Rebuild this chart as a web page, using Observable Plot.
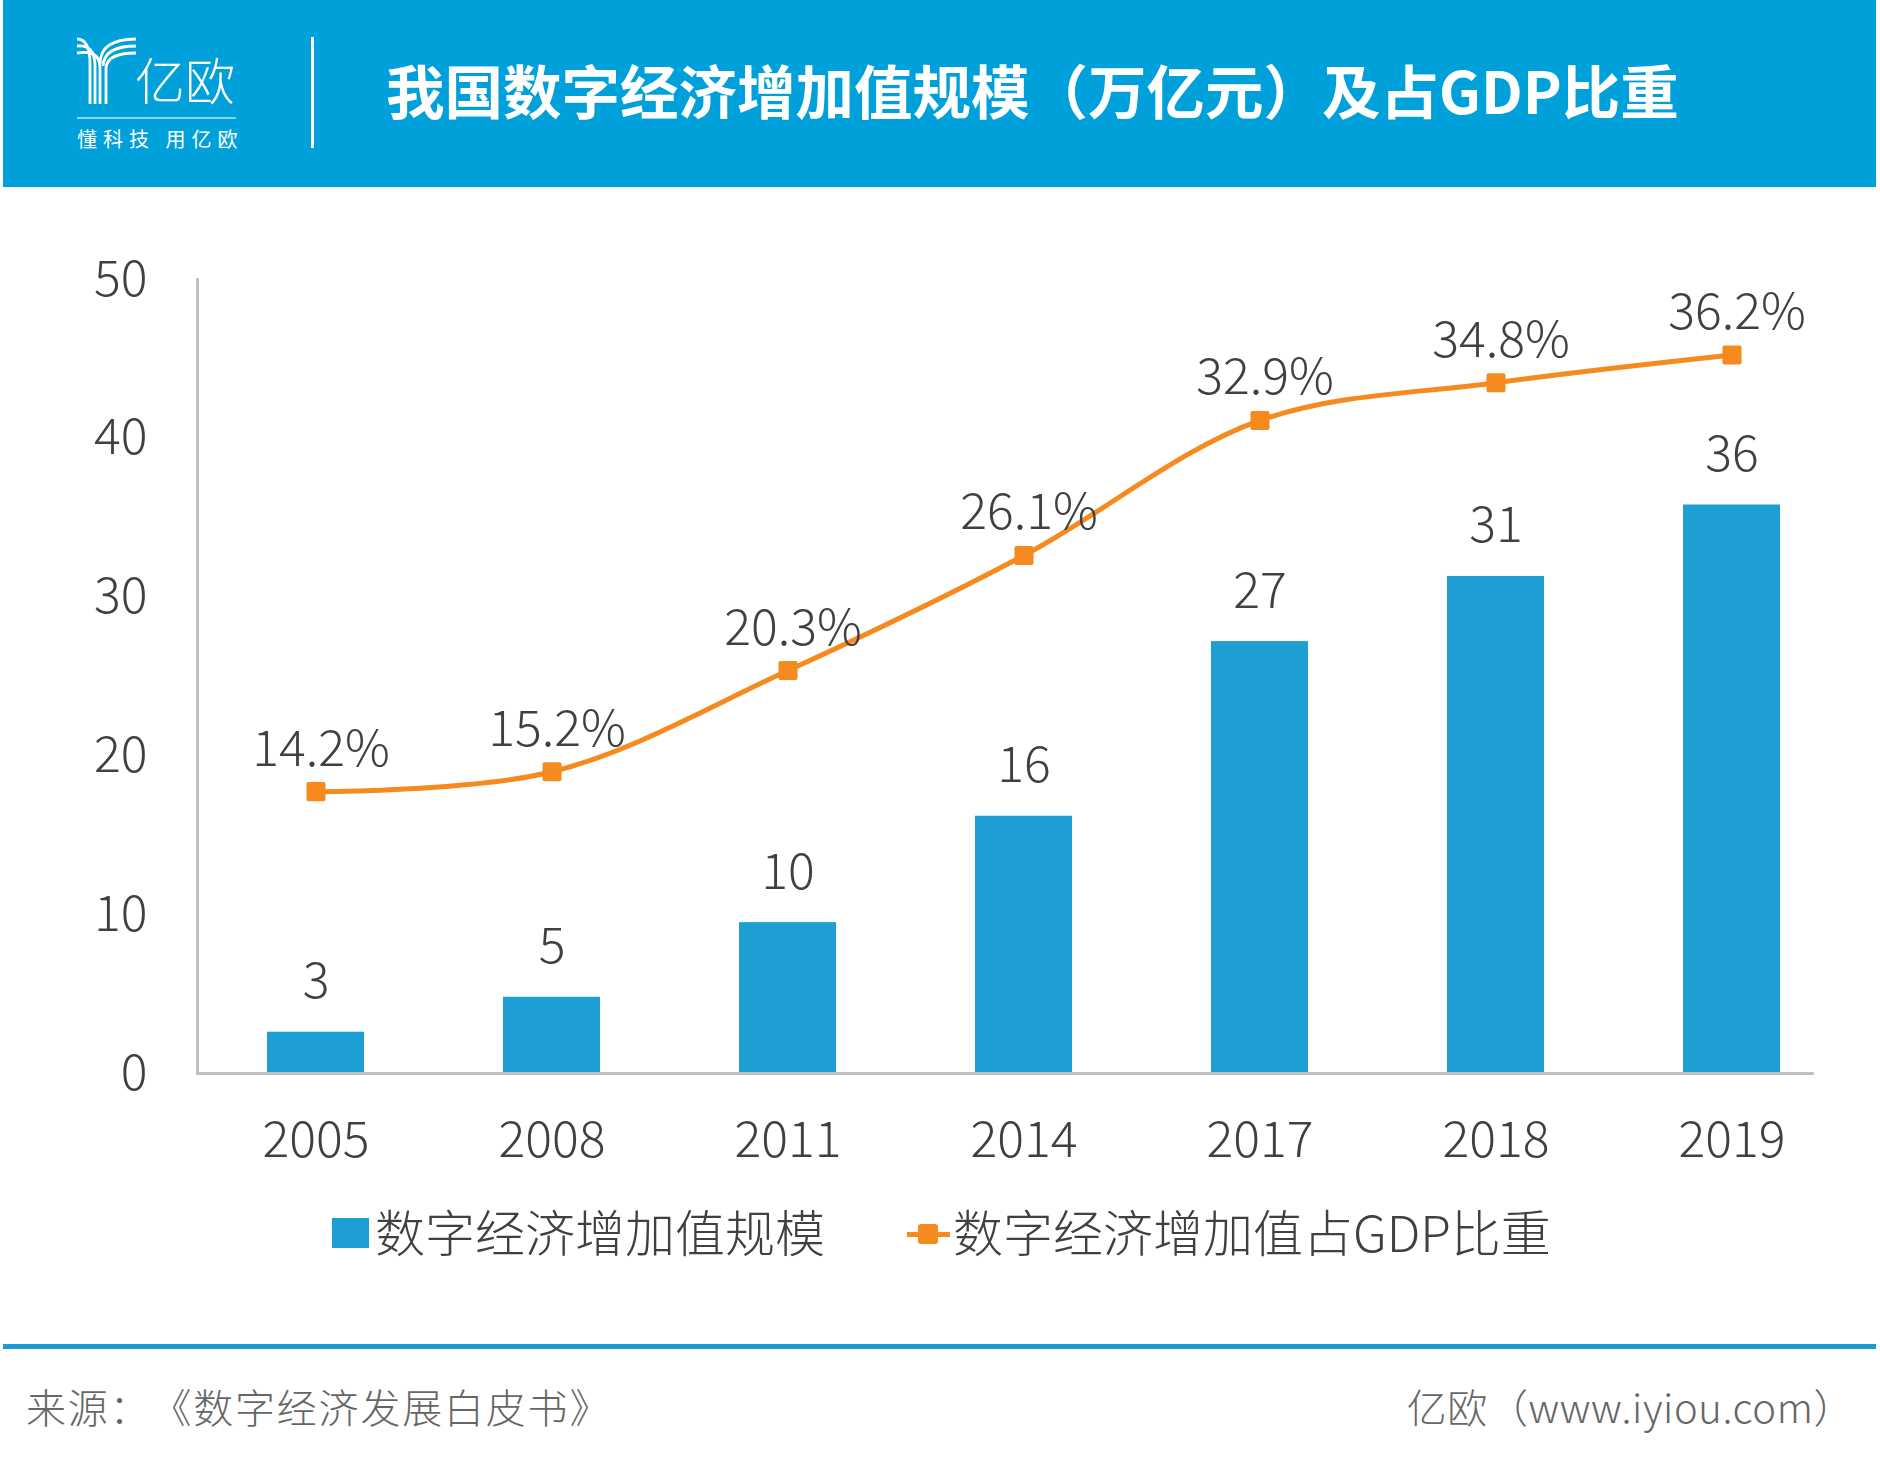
<!DOCTYPE html>
<html><head><meta charset="utf-8">
<script src="https://cdn.jsdelivr.net/npm/d3@7"></script>
<script src="https://cdn.jsdelivr.net/npm/@observablehq/plot@0.6"></script>
<style>
html,body{margin:0;padding:0;background:#fff;}
body{width:1880px;height:1468px;position:relative;overflow:hidden;font-family:"Noto Sans CJK SC","Noto Sans",sans-serif;text-spacing-trim:space-all;}
.abs{position:absolute;white-space:nowrap;line-height:1;}
.vc{transform:translateY(-50%);}
#header{left:3px;top:0;width:1873px;height:187px;background:#00A1DA;}
#title{left:386px;top:89px;font-size:58.5px;font-weight:700;color:#fff;}
#logoText{left:135px;top:78px;font-size:50px;font-weight:300;color:#fff;}
#logoLine{left:77px;top:117px;width:159px;height:2px;background:rgba(255,255,255,0.55);}
#tagline{left:77px;top:139px;font-size:20px;font-weight:400;color:#fff;letter-spacing:6px;}
#divider{left:311px;top:37px;width:3px;height:111px;background:#fff;}
#chart{left:0;top:200px;}
.legtext{font-size:50px;font-weight:300;color:#404040;top:1230px;}
#legBar{left:332px;top:1218px;width:37px;height:30px;background:#1E9FD4;}
#legLine{left:907px;top:1232px;width:43px;height:5px;background:#F58A1F;}
#legDot{left:918px;top:1224px;width:20px;height:20px;background:#F58A1F;border-radius:3px;}
#footLine{left:3px;top:1344px;width:1873px;height:5px;background:#1A9BD4;}
.foot{font-size:40px;font-weight:300;color:#666;top:1406px;}
</style>
</head>
<body>
<div id="header" class="abs"></div>
<svg class="abs" style="left:76px;top:36px" width="62" height="70" viewBox="0 0 62 70">
  <g fill="none" stroke="#fff" stroke-width="2.8">
    <path d="M1 3 Q14 3 14 28 L14 68"/>
    <path d="M1 10 Q19 8 19 30 L19 68"/>
    <path d="M1 17 Q24 13 24 32 L24 68"/>
    <path d="M60 3 Q24 3 24 28"/>
    <path d="M60 10 Q28 10 27 30"/>
    <path d="M60 17 Q31 17 30 32 L30 68"/>
  </g>
</svg>
<div id="logoText" class="abs vc">亿欧</div>
<div id="logoLine" class="abs"></div>
<div id="tagline" class="abs vc">懂科技 用亿欧</div>
<div id="divider" class="abs"></div>
<div id="title" class="abs vc">我国数字经济增加值规模（万亿元）及占GDP比重</div>
<div id="chart" class="abs"></div>
<div id="legBar" class="abs"></div>
<div id="leg1" class="abs vc legtext" style="left:375px"></div>
<div id="legLine" class="abs"></div>
<div id="legDot" class="abs"></div>
<div id="leg2" class="abs vc legtext" style="left:953px"></div>
<div id="footLine" class="abs"></div>
<div id="source" class="abs vc foot" style="left:26px;letter-spacing:1.8px"></div>
<div id="credit" class="abs vc foot" style="right:26px;letter-spacing:0.6px"></div>
<script>
// ---- data ----
const years = ["2005", "2008", "2011", "2014", "2017", "2018", "2019"];
const scaleValues = [2.6, 4.8, 9.5, 16.2, 27.2, 31.3, 35.8];   // 万亿元
const gdpShare = [14.2, 15.2, 20.3, 26.1, 32.9, 34.8, 36.2];     // %
const yTicks = [0, 10, 20, 30, 40, 50];
const seriesNames = ["数字经济增加值规模", "数字经济增加值占GDP比重"];
const sourceText = "来源：《数字经济发展白皮书》";
const creditText = "亿欧（www.iyiou.com）";
const PRIMARY_MAX = 50;      // left axis max
const SHARE_AXIS_MAX = 40;   // hidden secondary axis max (%)

document.getElementById("leg1").textContent = seriesNames[0];
document.getElementById("leg2").textContent = seriesNames[1];
document.getElementById("source").textContent = sourceText;
document.getElementById("credit").textContent = creditText;

const data = years.map((year, i) => ({year, value: scaleValues[i], share: gdpShare[i]}));
const shareY = d => d.share * PRIMARY_MAX / SHARE_AXIS_MAX;
const ink = "#404040";
const font = "\"Noto Sans CJK SC\", \"Noto Sans\", sans-serif";

const chart = Plot.plot({
  width: 1880, height: 980,
  marginLeft: 197, marginRight: 31, marginTop: 79, marginBottom: 107,
  style: {fontFamily: font, fontWeight: 300, background: "transparent", overflow: "visible"},
  x: {domain: years, paddingInner: 0.59, paddingOuter: 0.295, label: null},
  y: {domain: [0, PRIMARY_MAX], label: null},
  marks: [
    Plot.barY(data, {x: "year", y: "value", fill: "#1E9FD4"}),
    Plot.frame({anchor: "left", stroke: "#BFBFBF", strokeWidth: 3}),
    Plot.ruleY([0], {stroke: "#BFBFBF", strokeWidth: 3, insetRight: 35}),
    Plot.axisY({ticks: yTicks, tickSize: 0, tickPadding: 50, fontSize: 50, fill: ink, label: null}),
    Plot.axisX({tickSize: 0, tickPadding: 48, fontSize: 50, fill: ink, label: null}),
    Plot.text(data, {x: "year", y: "value", text: d => d3.format(".0f")(d.value), dy: -50, fontSize: 50, fill: ink}),
    Plot.line(data, {x: "year", y: shareY, stroke: "#F58A1F", strokeWidth: 5, curve: "catmull-rom"}),
    Plot.dot(data, {x: "year", y: shareY, symbol: "square", r: 8.5, fill: "#F58A1F", stroke: "#F58A1F", strokeWidth: 4, strokeLinejoin: "round"}),
    Plot.text(data, {x: "year", y: shareY, text: d => d.share.toFixed(1) + "%", dy: -42, dx: 5, fontSize: 50, fill: ink})
  ]
});
document.getElementById("chart").appendChild(chart);
</script>
</body></html>
